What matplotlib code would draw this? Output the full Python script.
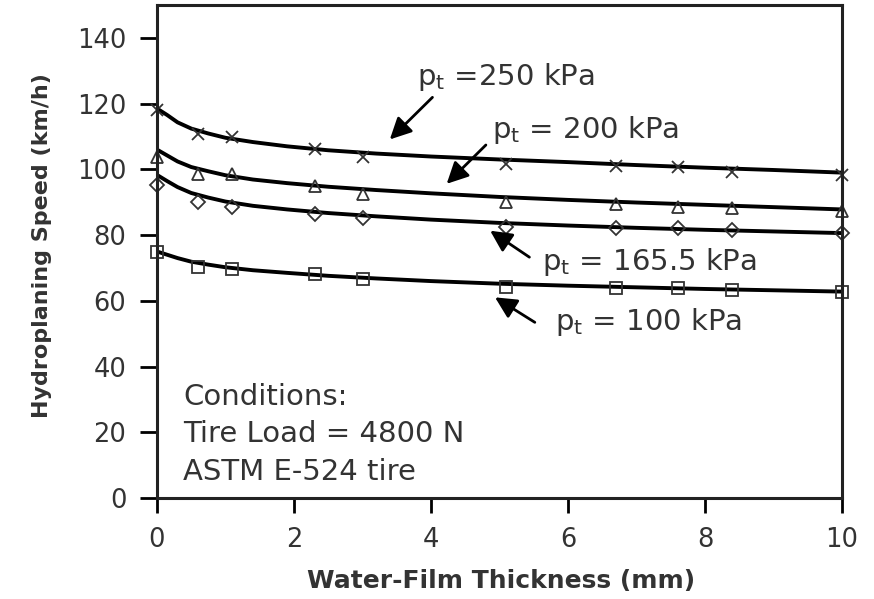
import matplotlib
matplotlib.use('Agg')
import matplotlib.pyplot as plt

# marker positions (mm)
thickness = [0, 0.6, 1.1, 2.3, 3.0, 5.1, 6.7, 7.6, 8.4, 10]
speed_250 = [118, 110.6, 109.8, 106.3, 103.8, 101.6, 101.0, 100.6, 99.2, 98.4]
speed_200 = [103.8, 98.6, 98.6, 95.0, 92.6, 90.0, 89.4, 88.6, 88.2, 87.2]
speed_165 = [95.3, 90.0, 88.6, 86.5, 85.3, 82.5, 82.2, 82.0, 81.6, 80.6]
speed_100 = [74.7, 70.3, 69.8, 68.2, 66.5, 64.3, 64.0, 63.9, 63.3, 62.7]

# fitted curves
curve_x = [0, 0.15, 0.3, 0.5, 0.75, 1.0, 1.4, 1.9, 2.5, 3.2, 4.0, 5.0, 6.0, 7.0, 8.0, 9.0, 10]
curve_250 = [118.5, 116.5, 114.3, 112.4, 110.9, 109.6, 108.3, 107.0, 105.8, 104.8, 103.9, 103.0, 102.2, 101.3, 100.5, 99.8, 99.0]
curve_200 = [106.0, 104.2, 102.4, 100.7, 99.4, 98.2, 96.9, 95.8, 94.7, 93.7, 92.7, 91.6, 90.7, 89.9, 89.2, 88.5, 87.8]
curve_165 = [98.3, 96.4, 94.6, 92.8, 91.4, 90.2, 88.9, 87.8, 86.7, 85.7, 84.7, 83.7, 82.9, 82.2, 81.6, 81.1, 80.6]
curve_100 = [75.0, 74.0, 73.0, 71.9, 71.0, 70.2, 69.3, 68.5, 67.6, 66.8, 66.0, 65.2, 64.6, 64.1, 63.6, 63.2, 62.8]

plt.rcParams['font.family'] = ['DejaVu Sans']
plt.rcParams['mathtext.fontset'] = 'dejavusans'
txt = '#333333'

fig = plt.figure(figsize=(8.74, 5.99), dpi=100)
ax = fig.add_axes([157 / 874, 1 - 498 / 599, (842 - 157) / 874, (498 - 5) / 599])

lw = 2.8
ax.plot(curve_x, curve_250, color='black', lw=lw)
ax.plot(curve_x, curve_200, color='black', lw=lw)
ax.plot(curve_x, curve_165, color='black', lw=lw)
ax.plot(curve_x, curve_100, color='black', lw=lw)

mk = dict(linestyle='none', color='#333333', ms=9, mew=1.3, mfc='none', clip_on=False)
ax.plot(thickness, speed_250, marker='x', **mk)
ax.plot(thickness, speed_200, marker='^', **mk)
ax.plot(thickness, speed_165, marker='D', **dict(mk, ms=7))
ax.plot(thickness, speed_100, marker='s', **dict(mk, ms=8))

ax.set_xlim(0, 10)
ax.set_ylim(0, 150)
ax.set_xticks([0, 2, 4, 6, 8, 10])
ax.set_yticks(range(0, 141, 20))
ax.tick_params(direction='out', length=11, width=2, labelsize=18.5, labelcolor=txt)
ax.tick_params(axis='x', pad=10)
ax.tick_params(axis='y', length=12, pad=10)
for s in ax.spines.values():
    s.set_linewidth(2.2)
    s.set_color('#222222')

ax.set_xlabel('Water-Film Thickness (mm)', fontsize=18, fontweight='bold', color=txt, va='center')
ax.set_ylabel('Hydroplaning Speed (km/h)', fontsize=16, fontweight='bold', color=txt, va='center')
ax.xaxis.set_label_coords(0.502, -0.168)
ax.yaxis.set_label_coords(-0.168, 0.513)

arrow = dict(arrowstyle='-|>,head_length=1.3,head_width=0.65', color='black', lw=2)
ax.annotate('', xy=(3.37, 108.5), xytext=(4.05, 122.5), arrowprops=arrow)
ax.annotate('', xy=(4.2, 95.0), xytext=(4.83, 108), arrowprops=arrow)
ax.annotate('', xy=(4.83, 81.8), xytext=(5.47, 72.8), arrowprops=arrow)
ax.annotate('', xy=(4.9, 61.5), xytext=(5.55, 53.0), arrowprops=arrow)

fs = 21
ax.text(3.80, 125.7, r'p$_\mathregular{t}$ =250 kPa', fontsize=fs, color=txt, va='baseline')
ax.text(4.89, 109.5, r'p$_\mathregular{t}$ = 200 kPa', fontsize=fs, color=txt, va='baseline')
ax.text(5.62, 69.4, r'p$_\mathregular{t}$ = 165.5 kPa', fontsize=fs, color=txt, va='baseline')
ax.text(5.81, 51.1, r'p$_\mathregular{t}$ = 100 kPa', fontsize=fs, color=txt, va='baseline')

ax.text(0.38, 28.3, 'Conditions:', fontsize=fs, color=txt, va='baseline')
ax.text(0.38, 17.0, 'Tire Load = 4800 N', fontsize=fs, color=txt, va='baseline')
ax.text(0.38, 5.5, 'ASTM E-524 tire', fontsize=fs, color=txt, va='baseline')

fig.savefig('out.png', dpi=100)
